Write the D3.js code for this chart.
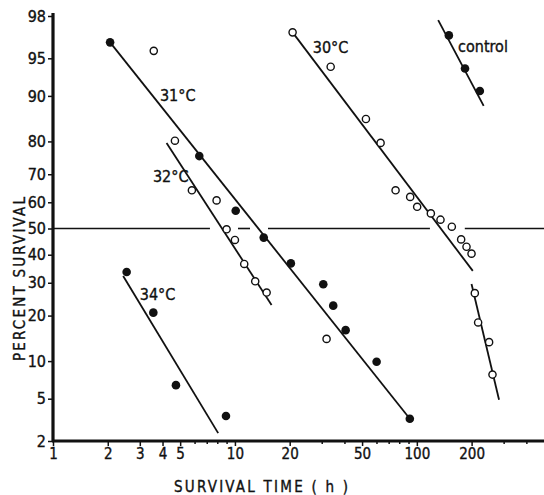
<!DOCTYPE html>
<html>
<head>
<meta charset="utf-8">
<script src="https://cdn.jsdelivr.net/npm/d3@7"></script>
<style>
  body { margin: 0; background: #fff; }
  text { font-family: "DejaVu Sans Condensed", "Liberation Sans Narrow", "DejaVu Sans", sans-serif; fill: #111; stroke: #111; stroke-width: 0.35px; }
</style>
</head>
<body>
<svg id="chart" width="544" height="495"></svg>
<script>
// ---------- data (survival time in h, percent survival) ----------
const xTicksMajor = [1, 2, 3, 4, 5, 10, 20, 50, 100, 200];
const xTicksMinor = [6, 7, 8, 9, 30, 40, 60, 70, 80, 90, 300, 400];
const yTicks = [2, 5, 10, 20, 30, 40, 50, 60, 70, 80, 90, 95, 98];

const controlPts = [[150, 96.9], [184, 93.9], [222, 90.8]];
const t31Pts = [[2.06, 96.4], [6.37, 75.8], [10.1, 56.8], [14.4, 46.5], [20.3, 36.8],
                [30.6, 29.5], [34.7, 22.8], [40.6, 16.3], [60.1, 9.9], [91.5, 3.3]];
const t30Pts = [[20.75, 97.1], [33.6, 94.1], [52.5, 85.5], [63.2, 79.6], [76.4, 64.4],
                [91.9, 62.0], [100.4, 58.3], [119.4, 55.8], [134.9, 53.4], [155.7, 50.7],
                [175.2, 45.8], [187.5, 43.0], [199.8, 40.4]];
const t30LatePts = [[208.3, 26.6], [217.2, 18.2], [249.6, 13.6], [260.5, 7.9]];
const t32Pts = [[3.58, 95.7], [4.68, 80.2], [5.80, 64.4], [7.93, 60.7], [9.0, 49.7],
                [10.0, 45.6], [11.25, 36.6], [12.93, 30.5], [14.94, 26.8], [31.9, 14.3]];
const t34Pts = [[2.54, 33.7], [3.56, 20.8], [4.74, 6.5], [8.93, 3.5]];

const fitControl = [[131, 97.8], [233, 88.2]];
const fit31 = [[2.06, 96.4], [91.5, 3.3]];
const fit30 = [[20.75, 97.1], [203, 34.1]];
const fit30Late = [[199.8, 29.6], [283, 4.9]];
const fit32 = [[4.21, 79.6], [15.9, 23.0]];
const fit34 = [[2.43, 32.3], [8.09, 2.4]];

const fiftyLineSegments = [[1, 7.29], [10.4, 12.1], [15.2, 118], [183.5, 500]];

const seriesLabels = [
  { text: "31°C", x: 3.87, y: 89.1 },
  { text: "32°C", x: 3.54, y: 67.3 },
  { text: "34°C", x: 3.0, y: 24.5 },
  { text: "30°C", x: 26.8, y: 95.5 },
  { text: "control", x: 168.5, y: 95.6 }
];

// ---------- probit transform (inverse normal CDF, Acklam) ----------
function probit(p) {
  const a = [-3.969683028665376e+01, 2.209460984245205e+02, -2.759285104469687e+02,
             1.383577518672690e+02, -3.066479806614716e+01, 2.506628277459239e+00];
  const b = [-5.447609879822406e+01, 1.615858368580409e+02, -1.556989798598866e+02,
             6.680131188771972e+01, -1.328068155288572e+01];
  const c = [-7.784894002430293e-03, -3.223964580411365e-01, -2.400758277161838e+00,
             -2.549671010366001e+00, 4.374664141464968e+00, 2.938163982698783e+00];
  const d = [7.784695709041462e-03, 3.224671290700398e-01, 2.445134137142996e+00,
             3.754408661907416e+00];
  const pl = 0.02425, ph = 1 - pl;
  let q, r;
  if (p < pl) {
    q = Math.sqrt(-2 * Math.log(p));
    return (((((c[0]*q+c[1])*q+c[2])*q+c[3])*q+c[4])*q+c[5]) / ((((d[0]*q+d[1])*q+d[2])*q+d[3])*q+1);
  } else if (p <= ph) {
    q = p - 0.5; r = q * q;
    return (((((a[0]*r+a[1])*r+a[2])*r+a[3])*r+a[4])*r+a[5])*q / (((((b[0]*r+b[1])*r+b[2])*r+b[3])*r+b[4])*r+1);
  } else {
    q = Math.sqrt(-2 * Math.log(1 - p));
    return -(((((c[0]*q+c[1])*q+c[2])*q+c[3])*q+c[4])*q+c[5]) / ((((d[0]*q+d[1])*q+d[2])*q+d[3])*q+1);
  }
}

// ---------- scales ----------
const svg = d3.select("#chart");
const x = d3.scaleLog().domain([1, 500]).range([53, 544]);
const yZ = d3.scaleLinear().domain([probit(0.02), probit(0.98)]).range([441, 16]);
const y = p => yZ(probit(p / 100));

// ---------- 50% reference line ----------
svg.append("g").selectAll("line").data(fiftyLineSegments).join("line")
  .attr("x1", d => x(d[0])).attr("x2", d => x(d[1]))
  .attr("y1", y(50)).attr("y2", y(50))
  .attr("stroke", "#111").attr("stroke-width", 1.6);

// ---------- axes ----------
const yAxis = d3.axisLeft(yZ)
  .tickValues(yTicks.map(t => probit(t / 100)))
  .tickFormat((d, i) => yTicks[i])
  .tickSizeOuter(0).tickSize(5).tickPadding(2);
const gy = svg.append("g").attr("transform", "translate(53,0)").call(yAxis);
gy.select(".domain").remove();
gy.selectAll(".tick line").attr("stroke", "#111").attr("stroke-width", 1.5);
gy.selectAll(".tick text").style("font-size", "16px").style("font-family", null).attr("fill", "#111");

const xAxis = d3.axisBottom(x).tickValues(xTicksMajor).tickFormat(d3.format("d"))
  .tickSizeOuter(0).tickSize(5).tickPadding(2);
const gx = svg.append("g").attr("transform", "translate(0,441)").call(xAxis);
gx.select(".domain").remove();
gx.selectAll(".tick line").attr("stroke", "#111").attr("stroke-width", 1.5);
gx.selectAll(".tick text").style("font-size", "15px").style("font-family", null).attr("fill", "#111");

const xMinorAxis = d3.axisBottom(x).tickValues(xTicksMinor).tickFormat("").tickSizeOuter(0).tickSize(3);
const gxm = svg.append("g").attr("transform", "translate(0,441)").call(xMinorAxis);
gxm.select(".domain").remove();
gxm.selectAll(".tick line").attr("stroke", "#111").attr("stroke-width", 1.5);

// axis lines (thick)
svg.append("line").attr("x1", 53).attr("x2", 53).attr("y1", 13).attr("y2", 442)
  .attr("stroke", "#111").attr("stroke-width", 3.2);
svg.append("line").attr("x1", 52).attr("x2", 544).attr("y1", 441).attr("y2", 441)
  .attr("stroke", "#111").attr("stroke-width", 3.2);

// axis titles
svg.append("text").attr("x", 261).attr("y", 492).attr("text-anchor", "middle")
  .style("font-size", "15px").attr("textLength", 174).attr("lengthAdjust", "spacing")
  .text("SURVIVAL  TIME  ( h )");
svg.append("text").attr("transform", "translate(25,279) rotate(-90)").attr("text-anchor", "middle")
  .style("font-size", "15px").attr("textLength", 164).attr("lengthAdjust", "spacing")
  .text("PERCENT  SURVIVAL");

// ---------- regression lines ----------
const line = d3.line().x(d => x(d[0])).y(d => y(d[1]));
[fitControl, fit31, fit30, fit30Late, fit32, fit34].forEach(f => {
  svg.append("path").attr("d", line(f)).attr("fill", "none")
    .attr("stroke", "#111").attr("stroke-width", 1.8);
});

// ---------- points ----------
function filled(pts) {
  svg.append("g").selectAll("circle").data(pts).join("circle")
    .attr("cx", d => x(d[0])).attr("cy", d => y(d[1])).attr("r", 4.3)
    .attr("fill", "#111");
}
function open(pts) {
  svg.append("g").selectAll("circle").data(pts).join("circle")
    .attr("cx", d => x(d[0])).attr("cy", d => y(d[1])).attr("r", 3.6)
    .attr("fill", "#fff").attr("stroke", "#111").attr("stroke-width", 1.4);
}
filled(controlPts);
filled(t31Pts);
filled(t34Pts);
open(t30Pts);
open(t30LatePts);
open(t32Pts);

// ---------- series labels ----------
svg.append("g").selectAll("text").data(seriesLabels).join("text")
  .attr("x", d => x(d.x)).attr("y", d => y(d.y))
  .style("font-size", "16px")
  .text(d => d.text);
</script>
</body>
</html>
